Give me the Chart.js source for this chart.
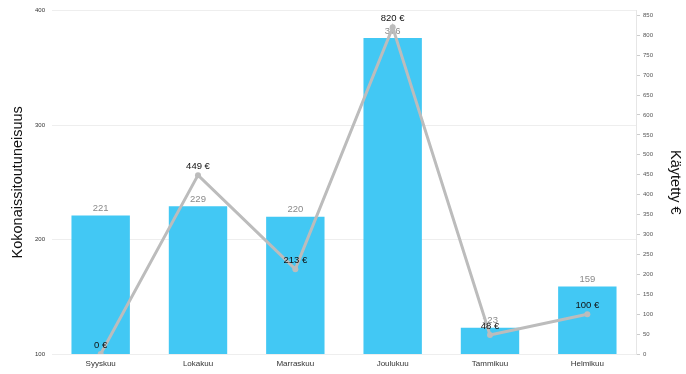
<!DOCTYPE html>
<html>
<head>
<meta charset="utf-8">
<script src="https://cdn.jsdelivr.net/npm/chart.js@4/dist/chart.umd.min.js"></script>
<style>
  html, body { margin: 0; padding: 0; background: #ffffff; }
  #wrap { width: 686px; height: 374px; }
</style>
</head>
<body>
<div id="wrap"><canvas id="c" width="686" height="374"></canvas></div>
<script>
// ---- data ----
const categories = ['Syyskuu', 'Lokakuu', 'Marraskuu', 'Joulukuu', 'Tammikuu', 'Helmikuu'];
const commitment = [221, 229, 220, 376, 123, 159];
const spent = [0, 449, 213, 820, 48, 100];
const rightTicks = [0, 50, 100, 150, 200, 250, 300, 350, 400, 450, 500, 550, 600, 650, 700, 750, 800, 850];
const leftTitle = 'Kokonaissitoutuneisuus';
const rightTitle = 'Käytetty €';

const FONT = "'Liberation Sans', Arial, Helvetica, sans-serif";

const valueLabels = {
  id: 'valueLabels',
  afterDatasetDraw(chart, args) {
    const ds = chart.data.datasets[args.index];
    const meta = args.meta;
    const ctx = chart.ctx;
    ctx.save();
    ctx.textAlign = 'center';
    ctx.textBaseline = 'middle';
    meta.data.forEach((el, i) => {
      const v = ds.data[i];
      if (ds.type === 'line') {
        ctx.font = '9.5px ' + FONT;
        ctx.fillStyle = '#111111';
        ctx.fillText(v + ' €', el.x, el.y - 9);
      } else {
        ctx.font = '9.5px ' + FONT;
        ctx.fillStyle = '#8a8a8a';
        ctx.fillText(String(v), el.x, el.y - 7);
      }
    });
    ctx.restore();
  }
};

new Chart(document.getElementById('c'), {
  type: 'bar',
  data: {
    labels: categories,
    datasets: [
      {
        type: 'line',
        label: rightTitle,
        data: spent,
        yAxisID: 'y1',
        borderColor: '#bcbcbc',
        backgroundColor: '#bcbcbc',
        borderWidth: 3,
        pointRadius: 3,
        pointBorderWidth: 0,
        pointBackgroundColor: '#bcbcbc',
        tension: 0,
        order: 0
      },
      {
        type: 'bar',
        label: leftTitle,
        data: commitment,
        yAxisID: 'y',
        backgroundColor: '#42C8F4',
        borderWidth: 0,
        categoryPercentage: 1.0,
        barPercentage: 0.6,
        order: 1
      }
    ]
  },
  options: {
    responsive: false,
    animation: false,
    devicePixelRatio: 1,
    layout: { padding: { top: 10, left: 0, right: 0, bottom: 0 } },
    plugins: {
      legend: { display: false },
      tooltip: { enabled: false }
    },
    scales: {
      x: {
        grid: { display: false, drawTicks: false },
        border: { display: false },
        ticks: {
          color: '#333333',
          font: { family: FONT, size: 8 },
          padding: 5,
          maxRotation: 0
        },
        afterFit(scale) { scale.height = 20; }
      },
      y: {
        position: 'left',
        min: 100,
        max: 400,
        ticks: {
          stepSize: 100,
          color: '#333333',
          font: { family: FONT, size: 6 },
          padding: 7
        },
        grid: { color: '#eeeeee', lineWidth: 1, drawTicks: false },
        border: { display: false },
        title: {
          display: true,
          text: leftTitle,
          color: '#111111',
          font: { family: FONT, size: 14.5 },
          padding: { top: 9, bottom: 0 }
        },
        afterFit(scale) { scale.width = 52; }
      },
      y1: {
        position: 'right',
        min: 0,
        max: 862,
        ticks: {
          autoSkip: false,
          color: '#555555',
          font: { family: FONT, size: 6 },
          padding: 3
        },
        afterBuildTicks(scale) {
          scale.ticks = rightTicks.map(v => ({ value: v }));
        },
        grid: { drawOnChartArea: false, drawTicks: true, tickLength: 4, tickColor: '#cccccc' },
        border: { display: true, color: '#e6e6e6', width: 1 },
        title: {
          display: true,
          text: rightTitle,
          color: '#111111',
          font: { family: FONT, size: 14.5 },
          padding: { top: 2, bottom: 0 }
        },
        afterFit(scale) { scale.width = 50; }
      }
    }
  },
  plugins: [valueLabels]
});
</script>
</body>
</html>
